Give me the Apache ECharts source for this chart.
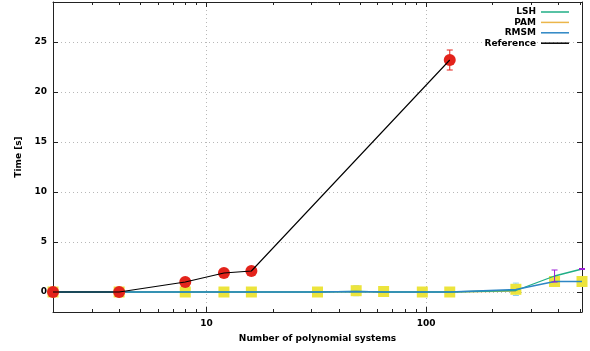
<!DOCTYPE html>
<html>
<head>
<meta charset="utf-8">
<script src="https://cdn.jsdelivr.net/npm/echarts@6/dist/echarts.min.js"></script>
<style>
  html, body { margin: 0; padding: 0; background: #fff; }
  #chart { width: 590px; height: 351px; }
</style>
</head>
<body>
<div id="chart"></div>
<script>
// Benchmark timings: run time vs. number of polynomial systems (log x axis)
const sizes      = [2, 4, 8, 12, 16, 32, 48, 64, 96, 128, 256, 384, 512];
const refSizes   = [2, 4, 8, 12, 16, 128];
const refTime    = [0, 0, 1.0, 1.9, 2.1, 23.2];
const refErr     = [0, 0, 0.1, 0.1, 0.1, 1.0];
const lshTime    = [0, 0, 0, 0, 0, 0, 0.05, 0, 0, 0, 0.15, 1.6, 2.3];
const lshErr     = [0, 0, 0, 0, 0, 0, 0, 0, 0, 0, 0, 0.6, 0.05];
const pamSizes   = [2, 4, 8, 12, 16, 32, 48, 64, 96, 128, 256];
const pamTime    = [0, 0, 0, 0, 0, 0, 0.03, 0, 0, 0, 0.1];
const rmsmTime   = [0, 0, 0, 0, 0, 0, 0.05, 0, 0, 0, 0.25, 1.05, 1.05];
const sampleTime = [0, 0, 0, 0, 0, 0, 0.13, 0.05, 0, 0, 0.27, 1.05, 1.05];
const sampleErr  = [0, 0, 0, 0, 0, 0, 0.5, 0, 0, 0, 0.62, 0, 0];
const xLabelTicks = [10, 100];
const xMinorTicks = [3, 4, 5, 6, 7, 8, 9, 20, 30, 40, 50, 60, 70, 80, 90, 200, 300, 400, 500];
const legendNames = ['LSH', 'PAM', 'RMSM', 'Reference'];

const X_MIN = 2, X_MAX = 512, Y_MIN = -2, Y_MAX = 29;
const FONT = 'DejaVu Sans';

const pairs = (xs, ys) => xs.map((x, i) => [x, ys[i]]);

function errorBars(name, xs, ys, errs, color, z) {
  const data = [];
  xs.forEach((x, i) => { if (errs[i] > 0) data.push([x, ys[i] - errs[i], ys[i] + errs[i]]); });
  return {
    type: 'custom', name, data, z, silent: true, clip: false,
    encode: { x: 0, y: [1, 2] },
    renderItem(params, api) {
      const x = api.value(0);
      const lo = api.coord([x, api.value(1)]);
      const hi = api.coord([x, api.value(2)]);
      const w = 3;
      const st = { stroke: color, lineWidth: 1 };
      return {
        type: 'group',
        children: [
          { type: 'line', shape: { x1: lo[0], y1: lo[1], x2: hi[0], y2: hi[1] }, style: st },
          { type: 'line', shape: { x1: lo[0] - w, y1: lo[1], x2: lo[0] + w, y2: lo[1] }, style: st },
          { type: 'line', shape: { x1: hi[0] - w, y1: hi[1], x2: hi[0] + w, y2: hi[1] }, style: st }
        ]
      };
    }
  };
}

// short inward minor ticks on the bottom and top edges of the log axis
const minorTickSeries = {
  type: 'custom', name: 'minor ticks', silent: true, clip: false, z: 20,
  data: xMinorTicks.map(v => [v, Y_MIN]),
  encode: { x: 0, y: 1 },
  renderItem(params, api) {
    const px = Math.round(api.coord([api.value(0), 0])[0]) + 0.5;
    const cs = params.coordSys;
    const st = { stroke: '#222', lineWidth: 1 };
    return {
      type: 'group',
      children: [
        { type: 'line', shape: { x1: px, y1: cs.y + cs.height, x2: px, y2: cs.y + cs.height - 3 }, style: st },
        { type: 'line', shape: { x1: px, y1: cs.y, x2: px, y2: cs.y + 3 }, style: st }
      ]
    };
  }
};

const labelStyle = { fontFamily: FONT, fontWeight: 'bold', fontSize: 9, color: '#000' };
const gridLine = { show: true, lineStyle: { color: '#b8b8b8', type: [1, 3], width: 1 } };
const lineColors = { LSH: '#1fae86', PAM: '#ebb64a', RMSM: '#2d86c4', Reference: '#000' };

const option = {
  animation: false,
  backgroundColor: '#fff',
  textStyle: { fontFamily: FONT },
  grid: { left: 53, right: 8, top: 2, bottom: 39 },
  legend: {
    data: legendNames.map(n => ({ name: n, icon: 'rect', itemStyle: { color: lineColors[n] } })),
    orient: 'vertical',
    right: 16, top: 2,
    align: 'right',
    itemWidth: 28, itemHeight: 1.5, itemGap: 0.4,
    selectedMode: false,
    textStyle: Object.assign({ lineHeight: 10 }, labelStyle)
  },
  xAxis: [
    {
      type: 'log', logBase: 10, min: X_MIN, max: X_MAX, position: 'bottom',
      name: 'Number of polynomial systems', nameLocation: 'middle', nameGap: 22,
      nameTextStyle: labelStyle,
      axisLine: { show: true, onZero: false, lineStyle: { color: '#222', width: 1 } },
      axisTick: { show: true, inside: true, length: 5, lineStyle: { color: '#222' } },
      axisLabel: Object.assign({
        margin: 7, showMinLabel: false, showMaxLabel: false,
        formatter: v => (xLabelTicks.some(t => Math.abs(t - v) < 1e-6) ? String(Math.round(v)) : '')
      }, labelStyle),
      splitLine: gridLine
    },
    {
      type: 'log', logBase: 10, min: X_MIN, max: X_MAX, position: 'top',
      axisLine: { show: true, onZero: false, lineStyle: { color: '#222', width: 1 } },
      axisTick: { show: true, inside: true, length: 5, lineStyle: { color: '#222' } },
      axisLabel: { show: false },
      splitLine: { show: false }
    }
  ],
  yAxis: [
    {
      type: 'value', min: Y_MIN, max: Y_MAX, position: 'left',
      name: 'Time [s]', nameLocation: 'middle', nameGap: 28, nameRotate: 90,
      nameTextStyle: labelStyle,
      axisLine: { show: true, onZero: false, lineStyle: { color: '#222', width: 1 } },
      axisTick: { show: true, inside: true, length: 5, lineStyle: { color: '#222' } },
      axisLabel: Object.assign({
        margin: 6,
        formatter: v => (v >= 0 && v % 5 === 0 ? String(v) : '')
      }, labelStyle),
      splitLine: gridLine
    },
    {
      type: 'value', min: Y_MIN, max: Y_MAX, position: 'right',
      axisLine: { show: true, onZero: false, lineStyle: { color: '#222', width: 1 } },
      axisTick: { show: true, inside: true, length: 5, lineStyle: { color: '#222' } },
      axisLabel: { show: false },
      splitLine: { show: false }
    }
  ],
  series: [
    errorBars('sample spread', sizes, sampleTime, sampleErr, '#8fd0ee', 2),
    {
      type: 'scatter', name: 'samples', data: pairs(sizes, sampleTime),
      symbol: 'rect', symbolSize: 11, z: 3, silent: true,
      itemStyle: { color: '#ece43c', opacity: 1 }
    },
    {
      type: 'line', name: 'PAM', data: pairs(pamSizes, pamTime),
      symbol: 'none', z: 4, lineStyle: { color: lineColors.PAM, width: 1.3 }, itemStyle: { color: lineColors.PAM }
    },
    {
      type: 'line', name: 'LSH', data: pairs(sizes, lshTime),
      symbol: 'none', z: 5, lineStyle: { color: lineColors.LSH, width: 1.3 }, itemStyle: { color: lineColors.LSH }
    },
    {
      type: 'line', name: 'RMSM', data: pairs(sizes, rmsmTime),
      symbol: 'none', z: 6, lineStyle: { color: lineColors.RMSM, width: 1.4 }, itemStyle: { color: lineColors.RMSM }
    },
    errorBars('LSH spread', sizes, lshTime, lshErr, '#9b1fd6', 7),
    errorBars('reference spread', refSizes, refTime, refErr, '#e3231b', 8),
    {
      type: 'scatter', name: 'reference samples', data: pairs(refSizes, refTime),
      symbol: 'circle', symbolSize: 12, z: 9, silent: true,
      itemStyle: { color: '#e3231b', opacity: 1 }
    },
    {
      type: 'line', name: 'Reference', data: pairs(refSizes, refTime),
      symbol: 'none', z: 10, lineStyle: { color: lineColors.Reference, width: 1.1 }, itemStyle: { color: lineColors.Reference }
    },
    minorTickSeries
  ]
};

const chart = echarts.init(document.getElementById('chart'), null, { renderer: 'canvas' });
chart.setOption(option);
</script>
</body>
</html>
